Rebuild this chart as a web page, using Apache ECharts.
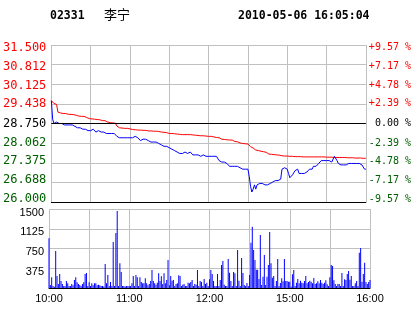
<!DOCTYPE html>
<html>
<head>
<meta charset="utf-8">
<script src="https://cdn.jsdelivr.net/npm/echarts@6/dist/echarts.min.js"></script>
<style>
html,body{margin:0;padding:0;background:#fff;}
#c{width:414px;height:314px;}
</style>
</head>
<body>
<div id="c"></div>
<script>
// ---- header ----
const stockCode = '02331';
const stockName = '李宁';
const stamp = '2010-05-06 16:05:04';

// ---- axes ----
const prevClose = 28.75;
const priceLabels = ['26.000','26.688','27.375','28.062','28.750','29.438','30.125','30.812','31.500'];
const pctLabels = ['-9.57 %','-7.17 %','-4.78 %','-2.39 %',' 0.00 %','+2.39 %','+4.78 %','+7.17 %','+9.57 %'];
const priceMin = 26, priceMax = 31.5, priceStep = 0.6875;
const volLabels = ['', '375', '750', '1125', '1500'];
const volMax = 1500, volStep = 375;
const timeTicks = ['10:00','11:00','12:00','15:00','16:00'];

// ---- minute categories: 10:00-12:30, 14:31-16:00 ----
const times = [];
function hm(m){const h=Math.floor(m/60),mm=m%60;return h+':'+(mm<10?'0':'')+mm;}
for (let m = 600; m <= 750; m++) times.push(hm(m));
for (let m = 871; m <= 960; m++) times.push(hm(m));

// ---- price (blue) ----
const price = [
29.55,28.90,28.75,28.80,28.80,28.75,28.75,28.75,28.75,28.75,
28.70,28.70,28.70,28.75,28.70,28.70,28.70,28.65,28.65,28.65,
28.60,28.65,28.60,28.60,28.55,28.55,28.55,28.50,28.50,28.50,
28.50,28.50,28.55,28.50,28.45,28.45,28.50,28.45,28.45,28.50,
28.45,28.45,28.40,28.40,28.40,28.40,28.40,28.40,28.40,28.40,
28.30,28.25,28.25,28.25,28.25,28.25,28.25,28.25,28.25,28.30,
28.25,28.25,28.25,28.25,28.30,28.25,28.25,28.20,28.15,28.15,
28.20,28.15,28.20,28.15,28.15,28.15,28.10,28.10,28.10,28.10,
28.10,28.10,28.05,28.05,28.00,28.00,27.95,27.95,27.95,27.90,
27.90,27.90,27.85,27.80,27.80,27.80,27.75,27.75,27.70,27.75,
27.70,27.70,27.75,27.70,27.70,27.70,27.75,27.70,27.65,27.65,
27.65,27.65,27.65,27.65,27.60,27.65,27.65,27.60,27.60,27.60,
27.60,27.60,27.60,27.60,27.60,27.60,27.60,27.55,27.45,27.40,
27.40,27.35,27.40,27.35,27.35,27.30,27.25,27.25,27.25,27.25,
27.25,27.25,27.25,27.20,27.20,27.20,27.15,27.15,27.15,27.15,
27.15,26.90,26.55,26.35,26.45,26.60,26.45,26.60,26.55,26.65,
26.65,26.65,26.65,26.60,26.60,26.60,26.60,26.65,26.70,26.70,
26.70,26.75,26.75,26.75,26.75,26.80,27.15,27.20,27.20,27.20,
27.15,27.00,26.85,26.90,26.95,27.00,27.10,27.10,27.15,27.00,
27.05,27.00,27.00,27.00,27.05,27.05,27.10,27.15,27.10,27.15,
27.25,27.25,27.25,27.30,27.35,27.40,27.45,27.45,27.45,27.45,
27.45,27.45,27.45,27.40,27.40,27.45,27.60,27.60,27.45,27.35,
27.35,27.30,27.30,27.30,27.30,27.30,27.30,27.35,27.35,27.35,
27.35,27.35,27.35,27.35,27.40,27.35,27.30,27.30,27.25,27.15,
27.15
];

// ---- average price (red) ----
const avgPrice = [
29.55,29.50,29.45,29.45,29.42,29.15,29.12,29.12,29.10,29.10,
29.10,29.10,29.07,29.07,29.07,29.07,29.07,29.06,29.05,29.04,
29.02,29.01,29.01,29.00,29.00,29.00,28.99,28.96,28.94,28.92,
28.91,28.91,28.90,28.90,28.90,28.89,28.89,28.88,28.86,28.85,
28.85,28.85,28.84,28.80,28.79,28.78,28.78,28.77,28.77,28.76,
28.66,28.61,28.60,28.59,28.59,28.59,28.58,28.58,28.58,28.57,
28.56,28.55,28.54,28.54,28.53,28.53,28.52,28.52,28.52,28.52,
28.51,28.51,28.51,28.50,28.49,28.49,28.49,28.48,28.48,28.48,
28.48,28.48,28.47,28.46,28.45,28.45,28.44,28.44,28.43,28.41,
28.40,28.40,28.40,28.40,28.39,28.39,28.38,28.37,28.37,28.36,
28.36,28.36,28.36,28.36,28.36,28.36,28.36,28.36,28.35,28.35,
28.34,28.33,28.33,28.33,28.32,28.32,28.32,28.31,28.31,28.30,
28.30,28.30,28.30,28.30,28.28,28.27,28.26,28.26,28.25,28.21,
28.20,28.19,28.19,28.18,28.18,28.18,28.17,28.17,28.17,28.14,
28.12,28.11,28.11,28.10,28.07,28.06,28.05,28.05,28.04,28.04,
28.03,27.99,27.94,27.91,27.89,27.84,27.82,27.81,27.80,27.79,
27.78,27.77,27.76,27.75,27.74,27.72,27.68,27.67,27.67,27.66,
27.66,27.65,27.65,27.65,27.64,27.64,27.62,27.62,27.61,27.61,
27.61,27.61,27.60,27.60,27.60,27.60,27.59,27.59,27.59,27.59,
27.59,27.59,27.58,27.58,27.58,27.58,27.58,27.58,27.58,27.58,
27.58,27.58,27.58,27.58,27.58,27.58,27.58,27.58,27.58,27.58,
27.57,27.57,27.57,27.57,27.57,27.57,27.56,27.56,27.56,27.56,
27.56,27.56,27.56,27.56,27.56,27.55,27.55,27.55,27.55,27.55,
27.55,27.54,27.54,27.54,27.54,27.54,27.54,27.53,27.53,27.53,
27.53
];

// ---- volume (blue bars) ----
const volume = [
943,57,203,38,25,703,228,76,266,133,
76,38,38,133,89,38,38,76,50,152,
203,108,76,57,38,76,108,266,285,38,
108,38,89,50,89,89,50,63,50,38,
38,30,456,89,247,38,114,38,874,38,
1045,1462,38,468,304,38,38,30,38,38,
38,38,89,228,38,247,203,38,203,114,
89,89,184,89,50,76,133,342,133,89,
63,101,279,133,222,76,279,89,152,532,
50,228,139,152,38,76,89,241,228,38,
63,76,38,38,101,89,114,152,38,76,
63,342,38,133,114,38,171,76,101,38,
165,342,266,133,38,38,266,38,152,437,
513,60,38,40,551,291,133,38,304,279,
38,722,139,38,570,285,57,38,95,38,
247,861,1165,722,532,348,348,171,1007,57,
215,627,57,215,437,1064,468,196,228,38,
133,551,38,95,184,127,551,133,133,120,
120,30,260,342,38,101,171,89,139,101,
89,133,228,89,114,139,120,89,190,76,
89,127,89,152,101,76,101,146,70,38,
203,437,418,146,76,38,76,76,38,285,
38,165,152,266,323,158,228,38,38,89,
133,38,671,760,120,266,481,114,76,114,
152
];

const RED = '#ff0000', GREEN = '#006000', GRID = '#c0c0c0';
function levelColor(v){ v = parseFloat(v); return Math.abs(v - prevClose) < 1e-6 ? '#000' : (v > prevClose ? RED : GREEN); }

// vertical nudges for the price-axis labels (labels sit slightly inside the top/bottom lines)
const shift = [-2.7,-2.3,-1.6,0,0,0,1.4,2.0,2.7];
const rich = {};
shift.forEach((s, i) => {
  rich['s' + i] = {padding: s >= 0 ? [2 * s, 0, 0, 0] : [0, 0, -2 * s, 0]};
});
function richFor(labels){ return (v, i) => '{s' + i + '|' + labels[i] + '}'; }

const chart = echarts.init(document.getElementById('c'), null, {renderer: 'canvas'});
chart.setOption({
  animation: false,
  backgroundColor: '#fff',
  graphic: [
    {type:'text', left: 50, top: 10, style:{text: stockCode, font: 'bold 11.5px "DejaVu Sans Mono"', fill:'#000'}},
    {type:'text', left: 104, top: 8, style:{text: stockName, font: '13px "Noto Sans CJK SC"', fill:'#000'}},
    {type:'text', left: 238, top: 10, style:{text: stamp, font: 'bold 11.5px "DejaVu Sans Mono"', fill:'#000'}}
  ],
  grid: [
    {left: 49, right: 44, top: 45, height: 157},
    {left: 49, right: 44, top: 209, height: 79}
  ],
  xAxis: [
    {type:'category', gridIndex:0, data: times, boundaryGap:false,
     axisLine:{lineStyle:{color:'#000', width:1}}, axisTick:{show:false}, axisLabel:{show:false},
     splitLine:{show:true, interval:(i)=> i % 30 === 0, lineStyle:{color:GRID, width:1}}},
    {type:'category', gridIndex:1, data: times, boundaryGap:false,
     axisLine:{lineStyle:{color:'#000', width:1}}, axisTick:{show:false},
     axisLabel:{interval:(i, v)=> timeTicks.indexOf(v) >= 0, color:'#000', fontFamily:'"Liberation Sans", Arial', fontSize:11, margin:5},
     splitLine:{show:true, interval:(i)=> i % 30 === 0, lineStyle:{color:GRID, width:1}}}
  ],
  yAxis: [
    {type:'value', gridIndex:0, min:priceMin, max:priceMax, interval:priceStep, position:'left',
     axisLine:{show:false}, axisTick:{show:false},
     axisLabel:{formatter: richFor(priceLabels), rich: rich, color: levelColor, fontFamily:'"DejaVu Sans Mono"', fontSize:12, margin:5},
     splitLine:{show:true, lineStyle:{color:GRID, width:1}}},
    {type:'value', gridIndex:0, min:priceMin, max:priceMax, interval:priceStep, position:'right',
     axisLine:{show:false}, axisTick:{show:false},
     axisLabel:{formatter: richFor(pctLabels), rich: rich, color: levelColor, fontFamily:'"DejaVu Sans Mono"', fontSize:10, margin:3},
     splitLine:{show:false}},
    {type:'value', gridIndex:1, min:0, max:volMax, interval:volStep, position:'left',
     axisLine:{show:false}, axisTick:{show:false},
     axisLabel:{formatter:(v, i)=> volLabels[i] ? '{v|' + volLabels[i] + '}' : '',
       rich:{v:{padding:[7,0,0,0]}},
       color:'#000', fontFamily:'"Liberation Sans", Arial', fontSize:11, margin:5},
     splitLine:{show:true, lineStyle:{color:GRID, width:1}}}
  ],
  series: [
    {type:'line', name:'avg', xAxisIndex:0, yAxisIndex:0, data: avgPrice, showSymbol:false, symbol:'none',
     lineStyle:{color:RED, width:1}, itemStyle:{color:RED},
     markLine:{silent:true, symbol:['none','none'], label:{show:false},
       lineStyle:{color:'#000', type:'solid', width:1}, data:[{yAxis: prevClose}]}},
    {type:'line', name:'price', xAxisIndex:0, yAxisIndex:0, data: price, showSymbol:false, symbol:'none',
     lineStyle:{color:'#0000ff', width:1}, itemStyle:{color:'#0000ff'}},
    {type:'bar', name:'vol', xAxisIndex:1, yAxisIndex:2, data: volume, barWidth:1,
     itemStyle:{color:'#0000ff'}}
  ]
});
</script>
</body>
</html>
